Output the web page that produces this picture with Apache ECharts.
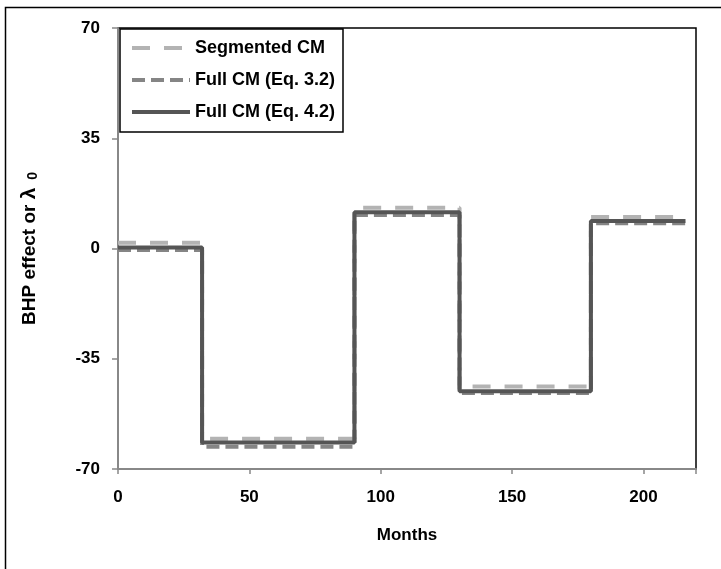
<!DOCTYPE html>
<html>
<head>
<meta charset="utf-8">
<script src="https://cdn.jsdelivr.net/npm/echarts@6/dist/echarts.min.js"></script>
<style>
  html, body { margin: 0; padding: 0; background: #fff; }
  #chart { width: 721px; height: 569px; }
</style>
</head>
<body>
<div id="chart"></div>
<script>
// step points: value holds from each month until the next one
var stepMonths = [0, 32, 90, 130, 180, 216];
var segmentedCM = [1.8, -60.4, 12.9, -43.8, 10, 10];
var fullCM32 = [-0.5, -62.9, 10.6, -45.9, 8, 8];
var fullCM42 = [0.3, -61.6, 11.5, -45.3, 8.7, 8.7];

var yTicks = [-70, -35, 0, 35, 70];
var xTicks = [0, 50, 100, 150, 200];

var font = "'Liberation Sans', Arial, sans-serif";

function pairs(vals) {
    return stepMonths.map(function (m, i) { return [m, vals[i]]; });
}

var chart = echarts.init(document.getElementById('chart'));

var option = {
    backgroundColor: '#fff',
    animation: false,
    graphic: [{
        type: 'rect',
        shape: { x: 5.5, y: 7.5, width: 740, height: 600 },
        style: { fill: 'none', stroke: '#000', lineWidth: 1.5 },
        silent: true
    }],
    grid: {
        left: 118, right: 25, top: 28, bottom: 100,
        show: true, borderColor: '#000', borderWidth: 1.5
    },
    legend: {
        orient: 'vertical',
        left: 120, top: 29,
        itemWidth: 58, itemHeight: 14, itemGap: 14,
        padding: [10, 8, 11, 10],
        backgroundColor: '#fff',
        borderColor: '#000', borderWidth: 1.5,
        itemStyle: { opacity: 0 },
        lineStyle: { width: 4 },
        textStyle: { fontFamily: font, fontWeight: 'bold', fontSize: 18, color: '#000' },
        data: ['Segmented CM', 'Full CM (Eq. 3.2)', 'Full CM (Eq. 4.2)']
    },
    xAxis: {
        type: 'value',
        min: 0, max: 220, interval: 50,
        name: 'Months', nameLocation: 'middle', nameGap: 58,
        nameTextStyle: { fontFamily: font, fontWeight: 'bold', fontSize: 17, color: '#000' },
        axisLine: { onZero: false, lineStyle: { color: '#888', width: 2 } },
        axisTick: { inside: false, length: 5, lineStyle: { color: '#888', width: 1.5 } },
        axisLabel: {
            margin: 20, fontFamily: font, fontWeight: 'bold', fontSize: 17, color: '#000',
            formatter: function (v) { return xTicks.indexOf(v) >= 0 ? v : ''; }
        },
        splitLine: { show: false }
    },
    yAxis: {
        type: 'value',
        min: -70, max: 70, interval: 35,
        name: '{a|BHP effect or }{b|λ}{c|  0}',
        nameLocation: 'middle', nameRotate: 90, nameGap: 78,
        nameTextStyle: {
            rich: {
                a: { fontFamily: font, fontWeight: 'bold', fontSize: 19, color: '#000' },
                b: { fontFamily: font, fontWeight: 'bold', fontSize: 21, color: '#000' },
                c: { fontFamily: font, fontWeight: 'bold', fontSize: 14, color: '#000', padding: [7, 0, 0, 0] }
            }
        },
        axisLine: { lineStyle: { color: '#888', width: 2 } },
        axisTick: { inside: false, length: 6, lineStyle: { color: '#888', width: 1.5 } },
        axisLabel: {
            margin: 18, fontFamily: font, fontWeight: 'bold', fontSize: 17, color: '#000',
            formatter: function (v) { return yTicks.indexOf(v) >= 0 ? v : ''; }
        },
        splitLine: { show: false }
    },
    series: [
        {
            name: 'Segmented CM', type: 'line', step: 'end', symbol: 'none',
            data: pairs(segmentedCM), z: 2,
            lineStyle: { color: '#b3b3b3', width: 4, type: [18, 14] },
            itemStyle: { color: '#b3b3b3' }
        },
        {
            name: 'Full CM (Eq. 3.2)', type: 'line', step: 'end', symbol: 'none',
            data: pairs(fullCM32), z: 3,
            lineStyle: { color: '#858585', width: 4, type: [13, 6] },
            itemStyle: { color: '#858585' }
        },
        {
            name: 'Full CM (Eq. 4.2)', type: 'line', step: 'end', symbol: 'none',
            data: pairs(fullCM42), z: 4,
            lineStyle: { color: '#555', width: 4 },
            itemStyle: { color: '#555' }
        }
    ]
};

chart.setOption(option);
</script>
</body>
</html>
